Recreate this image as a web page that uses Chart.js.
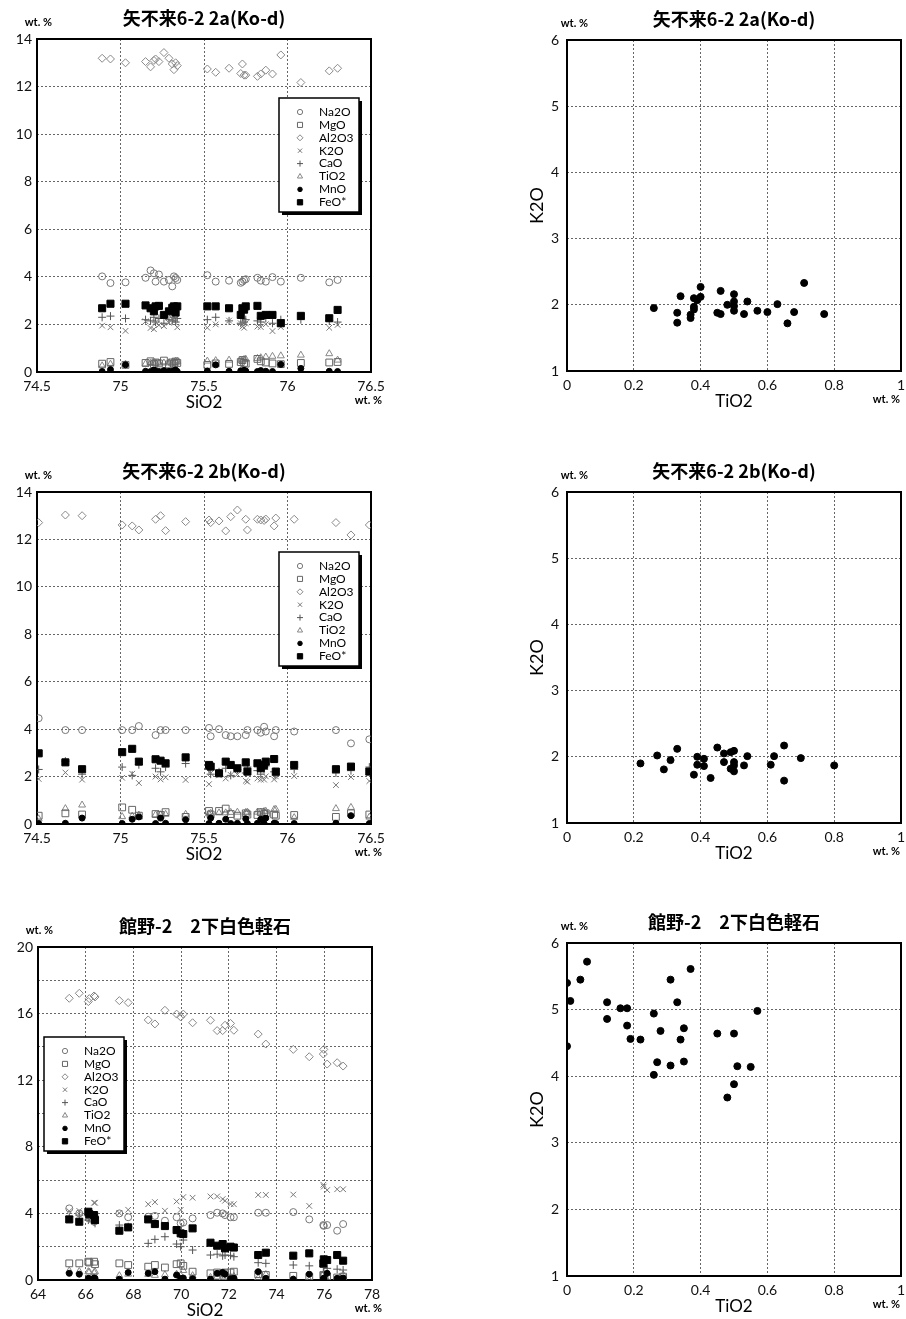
<!DOCTYPE html>
<html lang="ja">
<head>
<meta charset="UTF-8">
<title>矢不来6-2 / 館野-2 火山ガラス主成分</title>
<script src="https://cdn.jsdelivr.net/npm/chart.js"></script>
<style>
  html, body { margin: 0; padding: 0; background: #fff; }
  body { width: 906px; height: 1319px; position: relative; overflow: hidden; }
  canvas { position: absolute; }
</style>
</head>
<body>
<script>
// ---- 矢不来6-2 2a(Ko-d) ----
const sio2_2a  = [74.89, 74.94, 75.03, 75.15, 75.18, 75.20, 75.21, 75.23, 75.26, 75.29, 75.31, 75.32, 75.33, 75.34, 75.52, 75.57, 75.65, 75.72, 75.73, 75.74, 75.75, 75.82, 75.84, 75.87, 75.91, 75.96, 76.08, 76.25, 76.30];
const na2o_2a  = [4.02, 3.74, 3.77, 3.96, 4.27, 4.15, 3.80, 4.10, 3.80, 3.87, 3.60, 4.02, 3.95, 3.87, 4.07, 3.80, 3.84, 3.75, 3.80, 3.87, 3.90, 3.96, 3.84, 3.80, 3.99, 3.80, 3.96, 3.77, 3.87];
const mgo_2a   = [0.35, 0.42, 0.30, 0.38, 0.45, 0.33, 0.40, 0.36, 0.48, 0.32, 0.40, 0.35, 0.44, 0.38, 0.30, 0.36, 0.34, 0.42, 0.50, 0.38, 0.35, 0.55, 0.45, 0.40, 0.36, 0.33, 0.38, 0.40, 0.42];
const al2o3_2a = [13.19, 13.16, 13.00, 13.05, 12.83, 13.10, 13.16, 13.05, 13.43, 13.19, 12.95, 12.71, 13.00, 12.88, 12.74, 12.60, 12.77, 12.55, 12.95, 12.48, 12.48, 12.43, 12.53, 12.69, 12.53, 13.33, 12.17, 12.66, 12.77];
const k2o_2a   = [1.95, 1.88, 1.73, 2.13, 1.85, 1.80, 2.10, 1.97, 1.93, 2.07, 2.27, 2.12, 2.21, 1.88, 1.86, 2.00, 2.16, 2.05, 1.91, 1.86, 2.05, 1.91, 1.89, 2.01, 1.72, 1.89, 2.33, 1.86, 1.98];
const cao_2a   = [2.30, 2.35, 2.25, 2.20, 2.15, 2.30, 2.10, 2.25, 2.05, 2.20, 2.15, 2.30, 2.10, 2.25, 2.20, 2.30, 2.15, 2.05, 2.25, 2.10, 2.20, 2.15, 2.10, 2.25, 2.05, 2.20, 2.20, 2.15, 2.10];
const tio2_2a  = [0.26, 0.33, 0.33, 0.34, 0.37, 0.37, 0.38, 0.38, 0.38, 0.39, 0.40, 0.40, 0.46, 0.45, 0.46, 0.48, 0.50, 0.50, 0.50, 0.53, 0.54, 0.57, 0.60, 0.63, 0.66, 0.68, 0.71, 0.77, 0.50];
const mno_2a   = [0.02, 0.10, 0.30, 0.03, 0.02, 0.08, 0.04, 0.02, 0.06, 0.03, 0.02, 0.05, 0.08, 0.02, 0.04, 0.30, 0.03, 0.05, 0.02, 0.07, 0.04, 0.02, 0.06, 0.03, 0.02, 0.32, 0.15, 0.03, 0.02];
const feo_2a   = [2.68, 2.87, 2.87, 2.80, 2.68, 2.55, 2.76, 2.78, 2.40, 2.55, 2.70, 2.76, 2.50, 2.76, 2.76, 2.76, 2.68, 2.40, 2.68, 2.62, 2.76, 2.78, 2.36, 2.40, 2.40, 2.05, 2.36, 2.26, 2.61];

// ---- 矢不来6-2 2b(Ko-d) ----
const sio2_2b  = [74.51, 74.67, 74.77, 75.01, 75.07, 75.11, 75.21, 75.24, 75.27, 75.39, 75.53, 75.54, 75.59, 75.63, 75.66, 75.70, 75.75, 75.76, 75.82, 75.84, 75.86, 75.87, 75.92, 75.93, 76.04, 76.29, 76.38, 76.49];
const na2o_2b  = [4.46, 3.96, 3.96, 3.96, 3.96, 4.13, 3.75, 3.96, 3.96, 3.96, 4.05, 3.70, 4.00, 3.75, 3.70, 3.70, 3.75, 3.96, 3.96, 3.85, 4.10, 3.90, 3.70, 3.96, 3.90, 3.96, 3.40, 3.57];
const mgo_2b   = [0.35, 0.45, 0.40, 0.70, 0.60, 0.35, 0.42, 0.38, 0.50, 0.30, 0.55, 0.40, 0.55, 0.65, 0.42, 0.35, 0.45, 0.40, 0.38, 0.50, 0.42, 0.45, 0.40, 0.35, 0.38, 0.30, 0.45, 0.40];
const al2o3_2b = [12.71, 13.03, 13.00, 12.61, 12.57, 12.40, 12.85, 13.00, 12.37, 12.75, 12.82, 12.71, 12.78, 12.36, 12.96, 13.24, 12.85, 12.40, 12.85, 12.82, 12.80, 12.86, 12.57, 12.90, 12.85, 12.71, 12.19, 12.61];
const k2o_2b   = [1.90, 2.17, 1.87, 1.95, 2.12, 1.73, 2.00, 1.88, 1.97, 1.86, 1.68, 2.14, 2.05, 1.92, 2.07, 2.09, 1.82, 1.78, 1.92, 1.87, 1.87, 2.01, 1.88, 2.01, 2.02, 1.64, 1.98, 1.81];
const cao_2b   = [2.30, 2.65, 2.10, 2.40, 2.05, 2.50, 2.35, 2.20, 2.40, 2.55, 2.30, 2.10, 2.20, 2.35, 2.05, 2.30, 2.15, 2.40, 2.25, 2.10, 2.30, 2.45, 2.20, 2.05, 2.30, 2.15, 2.25, 2.40];
const tio2_2b  = [0.22, 0.65, 0.80, 0.31, 0.33, 0.38, 0.39, 0.39, 0.41, 0.41, 0.43, 0.45, 0.47, 0.47, 0.49, 0.50, 0.49, 0.50, 0.50, 0.50, 0.53, 0.54, 0.61, 0.62, 0.27, 0.65, 0.70, 0.29];
const mno_2b   = [0.02, 0.03, 0.25, 0.02, 0.20, 0.30, 0.02, 0.25, 0.03, 0.18, 0.02, 0.25, 0.03, 0.20, 0.02, 0.03, 0.22, 0.02, 0.03, 0.20, 0.02, 0.25, 0.03, 0.02, 0.02, 0.03, 0.35, 0.02];
const feo_2b   = [2.98, 2.60, 2.31, 3.03, 3.17, 2.63, 2.73, 2.67, 2.56, 2.81, 2.49, 2.42, 2.14, 2.63, 2.49, 2.35, 2.60, 2.21, 2.56, 2.35, 2.49, 2.63, 2.74, 2.21, 2.49, 2.31, 2.42, 2.21];

// ---- 館野-2 2下白色軽石 ----
const sio2_tn  = [65.31, 65.73, 66.11, 66.15, 66.35, 66.39, 67.41, 67.78, 68.62, 68.90, 69.32, 69.81, 69.98, 70.09, 70.48, 71.23, 71.51, 71.74, 71.84, 72.07, 72.21, 73.23, 73.55, 74.70, 75.37, 75.96, 75.98, 76.12, 76.54, 76.79];
const na2o_tn  = [4.30, 4.00, 3.90, 3.70, 3.50, 3.75, 4.00, 3.77, 3.80, 3.85, 3.56, 3.77, 3.40, 3.45, 3.70, 3.90, 4.04, 4.00, 3.90, 3.77, 3.77, 4.04, 4.04, 4.08, 3.64, 3.30, 3.25, 3.30, 2.96, 3.36];
const mgo_tn   = [1.00, 1.00, 1.10, 1.05, 1.10, 0.95, 1.00, 0.90, 0.80, 0.90, 0.75, 0.95, 1.00, 0.85, 0.50, 0.40, 0.45, 0.40, 0.45, 0.45, 0.50, 0.35, 0.30, 0.25, 0.20, 0.30, 0.25, 0.20, 0.15, 0.20];
const al2o3_tn = [16.92, 17.22, 16.72, 16.90, 17.06, 17.00, 16.78, 16.66, 15.62, 15.38, 16.20, 15.97, 15.80, 15.97, 15.45, 15.60, 14.98, 14.98, 15.30, 15.41, 15.00, 14.77, 14.17, 13.85, 13.41, 13.57, 13.85, 12.97, 13.05, 12.85];
const k2o_tn   = [4.14, 4.15, 3.88, 3.68, 4.64, 4.64, 4.02, 4.22, 4.55, 4.68, 4.16, 4.72, 4.21, 4.98, 4.94, 5.02, 5.02, 4.86, 4.76, 4.56, 4.55, 5.11, 5.11, 5.13, 4.45, 5.72, 5.61, 5.40, 5.45, 5.45];
const cao_tn   = [3.80, 3.90, 3.60, 3.70, 3.50, 3.40, 3.30, 3.20, 2.20, 2.44, 2.60, 2.16, 2.00, 2.40, 1.80, 1.50, 1.55, 1.45, 1.50, 1.48, 1.40, 1.04, 1.00, 0.90, 0.85, 0.80, 0.75, 0.70, 0.65, 0.60];
const tio2_tn  = [0.55, 0.51, 0.50, 0.48, 0.45, 0.50, 0.26, 0.35, 0.34, 0.28, 0.31, 0.35, 0.27, 0.57, 0.26, 0.16, 0.18, 0.12, 0.18, 0.19, 0.22, 0.12, 0.33, 0.01, 0.00, 0.06, 0.37, 0.00, 0.04, 0.31];
const mno_tn   = [0.40, 0.35, 0.10, 0.08, 0.12, 0.10, 0.05, 0.45, 0.40, 0.50, 0.05, 0.30, 0.10, 0.12, 0.08, 0.05, 0.40, 0.45, 0.35, 0.08, 0.10, 0.50, 0.10, 0.05, 0.35, 0.08, 0.10, 0.40, 0.10, 0.12];
const feo_tn   = [3.64, 3.50, 4.10, 3.95, 3.90, 3.60, 2.96, 3.16, 3.64, 3.36, 3.24, 3.00, 2.80, 2.76, 3.10, 2.24, 2.06, 2.16, 1.90, 2.00, 1.95, 1.50, 1.64, 1.46, 1.60, 1.00, 1.24, 1.20, 1.50, 1.16];

const oxideNames = ['Na2O', 'MgO', 'Al2O3', 'K2O', 'CaO', 'TiO2', 'MnO', 'FeO*'];

// marker look for each oxide (style only)
const marks = {
  'Na2O':  { pointStyle: 'circle',   radius: 3.5, color: '#777', fill: false },
  'MgO':   { pointStyle: 'rect',     radius: 4.8, color: '#666', fill: false },
  'Al2O3': { pointStyle: 'rectRot',  radius: 4,   color: '#888', fill: false },
  'K2O':   { pointStyle: 'crossRot', radius: 4,   color: '#777', fill: false },
  'CaO':   { pointStyle: 'cross',    radius: 4,   color: '#555', fill: false },
  'TiO2':  { pointStyle: 'triangle', radius: 4,   color: '#888', fill: false },
  'MnO':   { pointStyle: 'circle',   radius: 3,   color: '#000', fill: true },
  'FeO*':  { pointStyle: 'rect',     radius: 5,   color: '#000', fill: true }
};

const tickFont = { family: 'Lato', size: 14 };
const numLabel = v => String(Number(Number(v).toFixed(2)));

function oxideDatasets(sio2, cols) {
  return oxideNames.map((name, i) => {
    const m = marks[name];
    return {
      label: name,
      data: sio2.map((x, j) => ({ x: x, y: cols[i][j] })),
      pointStyle: m.pointStyle,
      pointRadius: m.radius,
      pointHoverRadius: m.radius,
      borderColor: m.color,
      backgroundColor: m.fill ? m.color : 'rgba(0,0,0,0)',
      borderWidth: 1,
      order: m.fill ? 0 : 1
    };
  });
}

// frame, titles and unit labels
const panelText = {
  id: 'panelText',
  beforeDatasetsDraw(chart) {
    const { ctx, chartArea: a } = chart;
    ctx.save();
    ctx.strokeStyle = '#000';
    ctx.lineWidth = 2;
    ctx.strokeRect(a.left, a.top, a.right - a.left, a.bottom - a.top);
    ctx.restore();
  },
  afterDraw(chart, args, o) {
    const { ctx, chartArea: a } = chart;
    const cx = (a.left + a.right) / 2;
    ctx.save();
    ctx.fillStyle = '#000';
    ctx.textBaseline = 'middle';
    ctx.textAlign = 'center';
    ctx.font = 'bold 18px "Noto Sans CJK JP"';
    ctx.fillText(o.title, cx, a.top - 21);
    ctx.font = '17px Lato';
    ctx.fillText(o.xTitle, cx, a.bottom + 31);
    ctx.textAlign = 'right';
    ctx.font = 'bold 11px Lato';
    ctx.fillText('wt. %', a.left + o.wtTop, a.top - 17);
    ctx.fillText('wt. %', a.right + o.wtBottom, a.bottom + 28);
    if (o.yTitle) {
      ctx.translate(a.left - 30, (a.top + a.bottom) / 2);
      ctx.rotate(-Math.PI / 2);
      ctx.textAlign = 'center';
      ctx.font = '18px Lato';
      ctx.fillText(o.yTitle, 0, 0);
    }
    ctx.restore();
  }
};

// boxed legend with shadow, drawn inside the plot
const oxideLegend = {
  id: 'oxideLegend',
  afterDatasetsDraw(chart, args, o) {
    if (!o.show) return;
    const { ctx, chartArea: a } = chart;
    const w = 80, h = 114;
    const x0 = o.anchor === 'left' ? a.left + o.dx : a.right - o.dx - w;
    const y0 = a.top + o.dy;
    ctx.save();
    ctx.fillStyle = '#000';
    ctx.fillRect(x0 + 3, y0 + 3, w, h);
    ctx.fillStyle = '#fff';
    ctx.fillRect(x0, y0, w, h);
    ctx.strokeStyle = '#000';
    ctx.lineWidth = 1.5;
    ctx.strokeRect(x0, y0, w, h);
    chart.data.datasets.forEach((ds, i) => {
      const y = y0 + 14 + i * 12.9;
      ctx.fillStyle = ds.backgroundColor;
      ctx.strokeStyle = ds.borderColor;
      ctx.lineWidth = 1;
      Chart.helpers.drawPoint(ctx, { pointStyle: ds.pointStyle, radius: ds.pointRadius * 0.75, rotation: 0, borderWidth: 1 }, x0 + 21, y);
      ctx.fillStyle = '#000';
      ctx.font = '12px Lato';
      ctx.textAlign = 'left';
      ctx.textBaseline = 'middle';
      ctx.fillText(ds.label, x0 + 40, y);
    });
    ctx.restore();
  }
};

function makePanel(p) {
  const cv = document.createElement('canvas');
  cv.width = p.box.w;
  cv.height = p.box.h;
  cv.style.left = p.box.x + 'px';
  cv.style.top = p.box.y + 'px';
  document.body.appendChild(cv);

  const yW = 30, xH = 30;
  const padding = {
    left: p.area.l - p.box.x - yW,
    top: p.area.t - p.box.y,
    right: p.box.x + p.box.w - p.area.r,
    bottom: p.box.y + p.box.h - p.area.b - xH
  };
  const grid = { color: '#666', lineWidth: 1, drawTicks: false };
  const border = { display: false, dash: [2, 2] };

  return new Chart(cv.getContext('2d'), {
    type: 'scatter',
    data: { datasets: p.datasets },
    options: {
      responsive: false,
      animation: false,
      layout: { padding: padding },
      scales: {
        x: {
          type: 'linear', min: p.x[0], max: p.x[1],
          grid: grid, border: border,
          ticks: { stepSize: p.x[2], font: tickFont, color: '#111', padding: 6, maxRotation: 0, autoSkip: false, callback: numLabel },
          afterFit(s) { s.height = xH; s.paddingLeft = 0; s.paddingRight = 0; }
        },
        y: {
          type: 'linear', min: p.y[0], max: p.y[1],
          grid: grid, border: border,
          ticks: {
            stepSize: p.y[2], font: tickFont, color: '#111', padding: p.yPad, autoSkip: false,
            callback: v => (Math.abs(v / p.y[3] - Math.round(v / p.y[3])) < 1e-6 ? numLabel(v) : '')
          },
          afterFit(s) { s.width = yW; s.paddingTop = 0; s.paddingBottom = 0; }
        }
      },
      plugins: {
        legend: { display: false },
        tooltip: { enabled: false },
        panelText: { title: p.title, xTitle: p.xTitle, yTitle: p.yTitle, wtTop: p.wtTop, wtBottom: p.wtBottom },
        oxideLegend: p.legend || { show: false }
      }
    },
    plugins: [panelText, oxideLegend]
  });
}

function tiK(tio2, k2o) {
  return [{
    label: 'K2O vs TiO2',
    data: tio2.map((t, i) => ({ x: t, y: k2o[i] })),
    pointStyle: 'circle',
    pointRadius: 3.5,
    pointHoverRadius: 3.5,
    backgroundColor: '#000',
    borderColor: '#000',
    borderWidth: 1
  }];
}

const title2a = '矢不来6-2 2a(Ko-d)';
const title2b = '矢不来6-2 2b(Ko-d)';
const titleTn = '館野-2　2下白色軽石';

const leftBox = (y, h) => ({ x: 0, y: y, w: 453, h: h });
const rightBox = (y, h) => ({ x: 453, y: y, w: 453, h: h });

makePanel({
  box: leftBox(0, 440), area: { l: 37, t: 39, r: 371, b: 372 },
  x: [74.5, 76.5, 0.5], y: [0, 14, 2, 2], yPad: 5,
  title: title2a, xTitle: 'SiO2', wtTop: 15, wtBottom: 11,
  datasets: oxideDatasets(sio2_2a, [na2o_2a, mgo_2a, al2o3_2a, k2o_2a, cao_2a, tio2_2a, mno_2a, feo_2a]),
  legend: { show: true, anchor: 'right', dx: 12, dy: 59 }
});
makePanel({
  box: rightBox(0, 440), area: { l: 567, t: 40, r: 901, b: 371 },
  x: [0, 1, 0.2], y: [1, 6, 1, 1], yPad: 8,
  title: title2a, xTitle: 'TiO2', yTitle: 'K2O', wtTop: 21, wtBottom: -1,
  datasets: tiK(tio2_2a, k2o_2a)
});
makePanel({
  box: leftBox(440, 440), area: { l: 37, t: 492, r: 371, b: 824 },
  x: [74.5, 76.5, 0.5], y: [0, 14, 2, 2], yPad: 5,
  title: title2b, xTitle: 'SiO2', wtTop: 15, wtBottom: 11,
  datasets: oxideDatasets(sio2_2b, [na2o_2b, mgo_2b, al2o3_2b, k2o_2b, cao_2b, tio2_2b, mno_2b, feo_2b]),
  legend: { show: true, anchor: 'right', dx: 12, dy: 60 }
});
makePanel({
  box: rightBox(440, 440), area: { l: 567, t: 492, r: 901, b: 823 },
  x: [0, 1, 0.2], y: [1, 6, 1, 1], yPad: 8,
  title: title2b, xTitle: 'TiO2', yTitle: 'K2O', wtTop: 21, wtBottom: -1,
  datasets: tiK(tio2_2b, k2o_2b)
});
makePanel({
  box: leftBox(885, 434), area: { l: 38, t: 947, r: 372, b: 1280 },
  x: [64, 78, 2], y: [0, 20, 2, 4], yPad: 5,
  title: titleTn, xTitle: 'SiO2', wtTop: 15, wtBottom: 10,
  datasets: oxideDatasets(sio2_tn, [na2o_tn, mgo_tn, al2o3_tn, k2o_tn, cao_tn, tio2_tn, mno_tn, feo_tn]),
  legend: { show: true, anchor: 'left', dx: 6, dy: 90 }
});
makePanel({
  box: rightBox(885, 434), area: { l: 567, t: 943, r: 901, b: 1276 },
  x: [0, 1, 0.2], y: [1, 6, 1, 1], yPad: 8,
  title: titleTn, xTitle: 'TiO2', yTitle: 'K2O', wtTop: 21, wtBottom: -1,
  datasets: tiK(tio2_tn, k2o_tn)
});
</script>
</body>
</html>
